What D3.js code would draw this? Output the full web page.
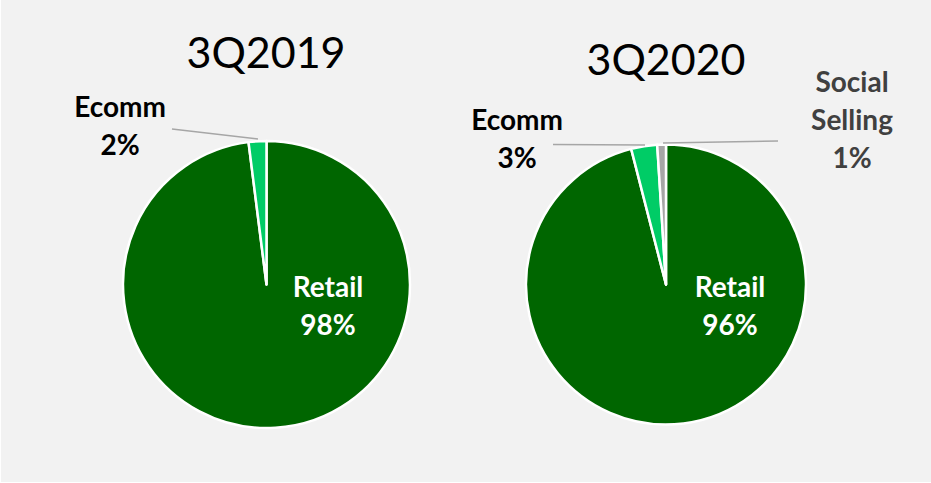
<!DOCTYPE html>
<html>
<head>
<meta charset="utf-8">
<script src="https://cdn.jsdelivr.net/npm/d3@7"></script>
<style>
  html, body { margin: 0; padding: 0; background: #ffffff; }
  svg { display: block; }
</style>
</head>
<body>
<svg id="chart" width="931" height="483"></svg>
<script>
// Channel mix by quarter
const periods = ["3Q2019", "3Q2020"];
const channels2019 = ["Retail", "Ecomm"];
const shares2019 = [98, 2];
const channels2020 = ["Retail", "Ecomm", "Social Selling"];
const shares2020 = [96, 3, 1];
const channelColors = { "Retail": "#006600", "Ecomm": "#00cc66", "Social Selling": "#a6a6a6" };

const svg = d3.select("#chart");
svg.append("rect").attr("x", 1).attr("y", 0).attr("width", 930).attr("height", 482).attr("fill", "#f2f2f2");

const font = "Lato, 'Open Sans', sans-serif";

// Layout of each pie and its callouts
const pies = [
  {
    title: periods[0], channels: channels2019, shares: shares2019,
    cx: 266.5, cy: 284.5, r: 143.5, titleX: 266, titleY: 68,
    labels: {
      "Retail": { x: 328, y: 297, color: "#ffffff" },
      "Ecomm": { x: 120, y: 117, color: "#000000", leader: [[172, 129], [258, 139]] }
    }
  },
  {
    title: periods[1], channels: channels2020, shares: shares2020,
    cx: 666, cy: 284.5, r: 140, titleX: 666, titleY: 75,
    labels: {
      "Retail": { x: 730, y: 297, color: "#ffffff" },
      "Ecomm": { x: 517, y: 130, color: "#000000", leader: [[553, 144.5], [645, 145]] },
      "Social Selling": { x: 852, y: 92, color: "#404040", leader: [[663, 143], [778, 141]] }
    }
  }
];

const lineH = 38;

pies.forEach(p => {
  const data = p.channels.map((c, i) => ({ channel: c, share: p.shares[i] }));
  const arcs = d3.pie().sort(null).value(d => d.share)(data);
  const arc = d3.arc().innerRadius(0).outerRadius(p.r);
  const g = svg.append("g").attr("transform", `translate(${p.cx},${p.cy})`);

  g.selectAll("path").data(arcs).join("path")
    .attr("d", arc)
    .attr("fill", d => channelColors[d.data.channel])
    .attr("stroke", "#ffffff")
    .attr("stroke-width", 2.5)
    .attr("stroke-linejoin", "round");

  svg.append("text")
    .attr("x", p.titleX).attr("y", p.titleY)
    .attr("text-anchor", "middle")
    .attr("font-family", font)
    .attr("font-size", 43)
    .attr("fill", "#000000")
    .text(p.title);

  arcs.forEach(a => {
    const lab = p.labels[a.data.channel];
    if (lab.leader) {
      svg.append("path")
        .attr("d", d3.line()(lab.leader))
        .attr("fill", "none")
        .attr("stroke", "#a6a6a6")
        .attr("stroke-width", 1.5);
    }
    const lines = a.data.channel.split(" ").concat([a.data.share + "%"]);
    const t = svg.append("text")
      .attr("text-anchor", "middle")
      .attr("font-family", font)
      .attr("font-weight", "bold")
      .attr("font-size", 28)
      .attr("fill", lab.color);
    lines.forEach((s, i) => {
      t.append("tspan").attr("x", lab.x).attr("y", lab.y + i * lineH).text(s);
    });
  });
});
</script>
</body>
</html>
